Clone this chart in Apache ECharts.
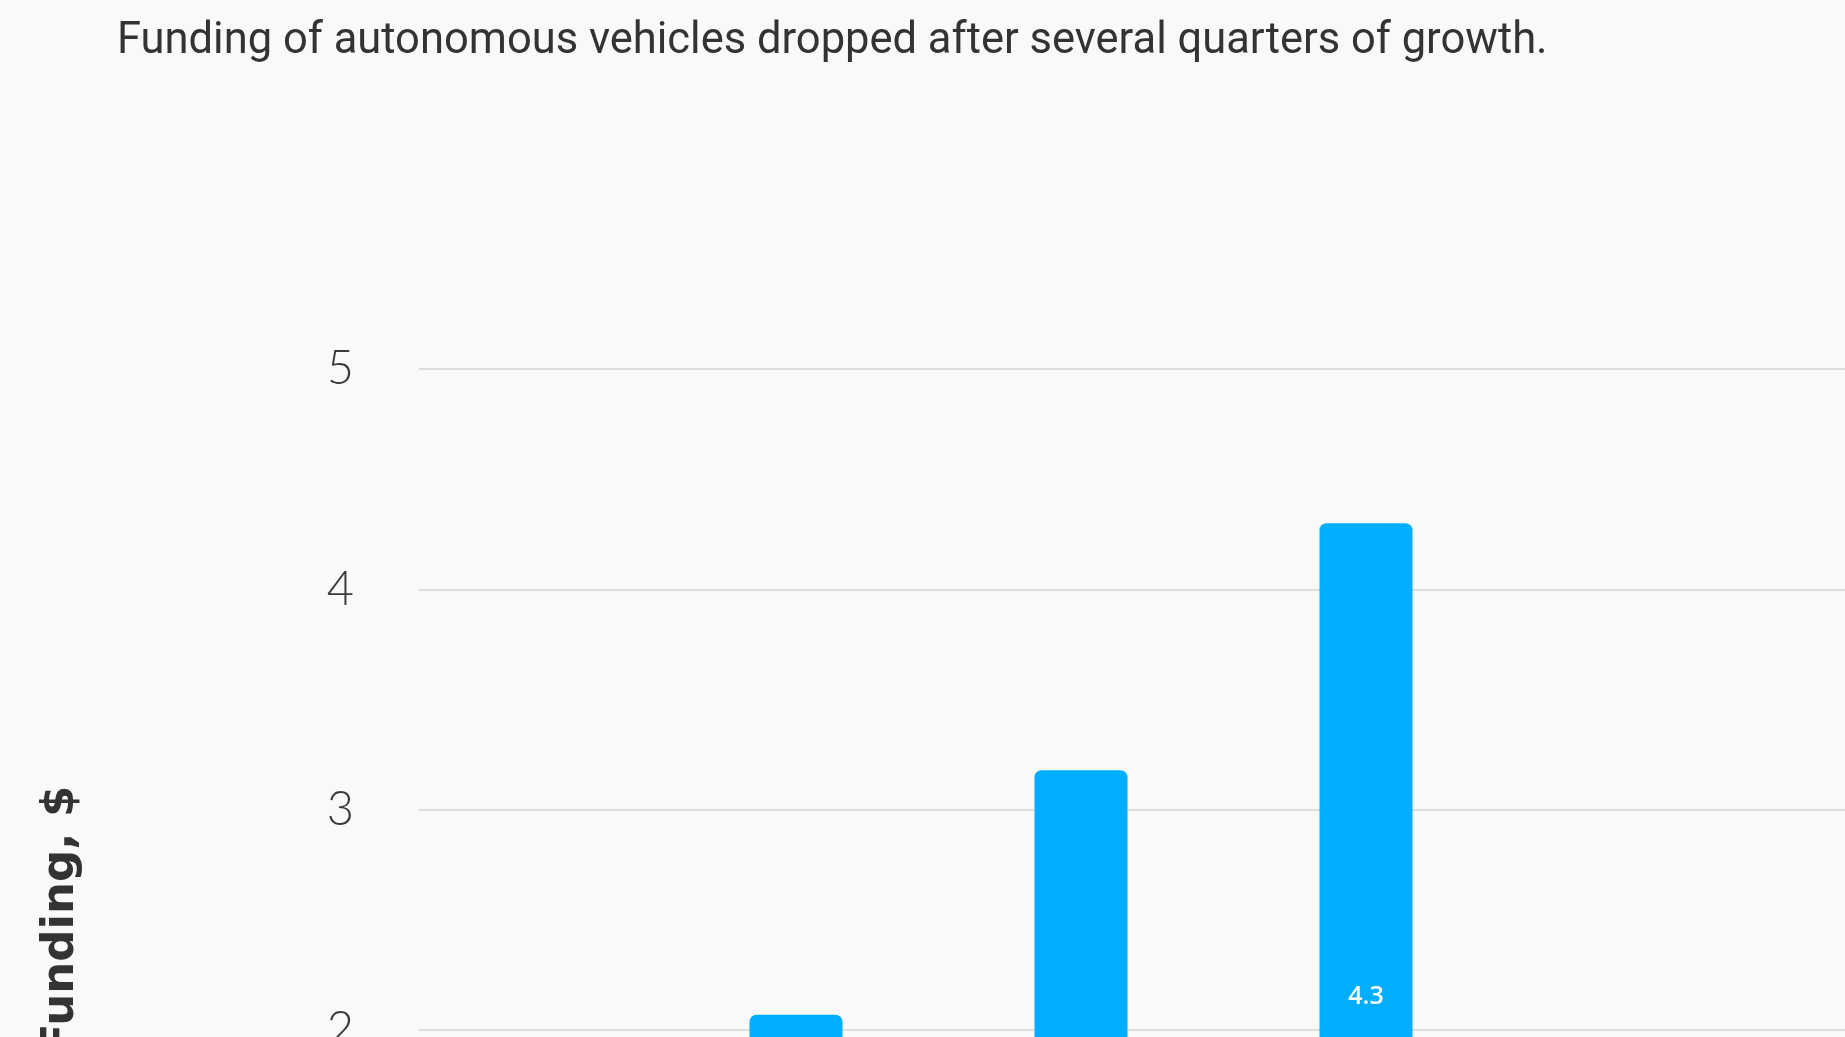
<!DOCTYPE html>
<html style="height: 100%; width: 100%">

<head>
  <meta charset="utf-8" />
</head>

<body style="height: 100%; width: 100%; margin: 0; background: #f9f9f9;">
  <div id="chart-panel" style="height: 1037px; width: 1845px;"></div>
  <script type="text/javascript" src="https://cdn.jsdelivr.net/npm/echarts@6.0.0/dist/echarts.min.js"></script>

  <script type="text/javascript">
    // data
    var quarters = ["Q1", "Q2", "Q3", "Q4", "Q5", "Q6"];
    var funding = [1.6, 2.07, 3.18, 4.3, 1.5, 1.3]; // first / last bars sit below the visible area
    var yTicks = [0, 1, 2, 3, 4, 5];

    var titleText = "Funding of autonomous vehicles dropped after several quarters of growth.";

    var dom = document.getElementById("chart-panel");
    var myChart = echarts.init(dom);

    // the plot is taller/wider than the window, only its top part is seen
    var plotTop = 369;
    var plotBottom = -434;

    var option = {
      animation: false,
      backgroundColor: "#f9f9f9",
      title: {
        text: titleText,
        left: 112,
        top: 15,
        textStyle: {
          fontFamily: "Roboto",
          fontWeight: 400,
          fontSize: 43.5,
          color: "#333333",
        },
      },
      grid: [
        {
          // grid for the gridlines + y labels
          left: 419,
          right: -300,
          top: plotTop,
          bottom: plotBottom,
          outerBoundsMode: "none",
        },
        {
          // grid for the bars
          left: 368.5,
          width: 285 * quarters.length,
          top: plotTop,
          bottom: plotBottom,
          outerBoundsMode: "none",
        },
      ],
      xAxis: [
        {
          gridIndex: 0,
          type: "value",
          show: false,
        },
        {
          gridIndex: 1,
          type: "category",
          data: quarters,
          axisLine: { show: false },
          axisTick: { show: false },
          axisLabel: {
            fontFamily: "Lato",
            fontSize: 30,
            color: "#444",
          },
        },
      ],
      yAxis: [
        {
          gridIndex: 0,
          type: "value",
          min: yTicks[0],
          max: yTicks[yTicks.length - 1],
          interval: 1,
          name: "Funding, $",
          nameLocation: "middle",
          nameGap: 335,
          nameTextStyle: {
            fontFamily: "DejaVu Sans",
            fontWeight: 700,
            fontSize: 45,
            color: "#333333",
          },
          axisLine: { show: false },
          axisTick: { show: false },
          axisLabel: {
            margin: 65,
            fontFamily: "Lato",
            fontWeight: 300,
            fontSize: 47,
            color: "#3a3a3a",
          },
          splitLine: {
            lineStyle: {
              color: "#dcdcdc",
              width: 2,
            },
          },
        },
        {
          gridIndex: 1,
          type: "value",
          min: yTicks[0],
          max: yTicks[yTicks.length - 1],
          show: false,
          splitLine: { show: false },
        },
      ],
      series: [
        {
          name: "Funding",
          type: "bar",
          xAxisIndex: 1,
          yAxisIndex: 1,
          data: funding,
          barWidth: 93,
          itemStyle: {
            color: "#00aeff",
            borderRadius: [7, 7, 0, 0],
          },
          label: {
            show: true,
            position: "inside",
            fontFamily: "Open Sans",
            fontWeight: 600,
            fontSize: 25,
            color: "#ffffff",
          },
        },
      ],
    };

    myChart.setOption(option);
  </script>
</body>

</html>
